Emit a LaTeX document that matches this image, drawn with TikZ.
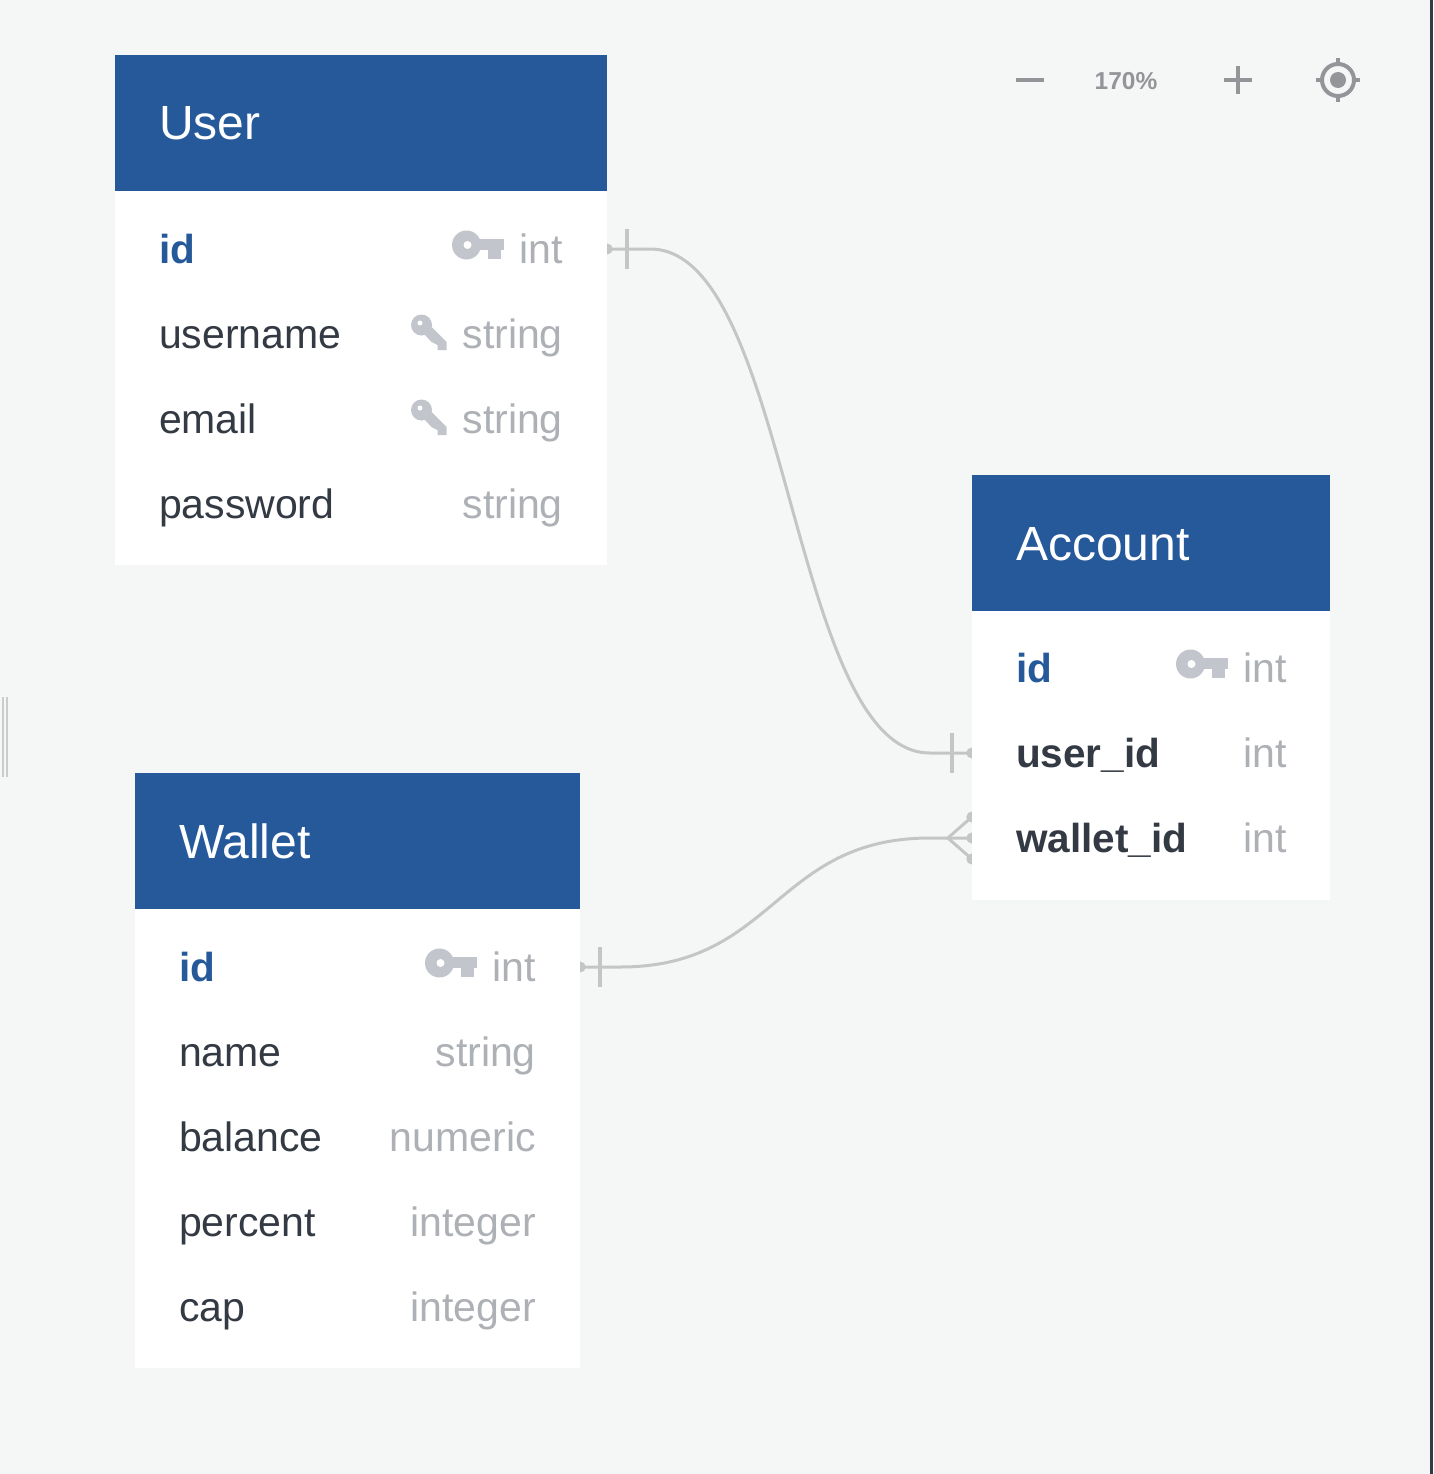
\documentclass[tikz,border=0pt]{standalone}
\usepackage{fontspec}
\setmainfont{Liberation Sans}
\usepackage{tikz}
\pgfdeclarelayer{tables}
\pgfsetlayers{main,tables}

\definecolor{pagebg}{HTML}{F5F7F7}
\definecolor{headblue}{HTML}{25599A}
\definecolor{namedark}{HTML}{343A43}
\definecolor{typegray}{HTML}{ADB0B5}
\definecolor{icongray}{HTML}{C2C5CC}
\definecolor{linkgray}{HTML}{C4C6C6}
\definecolor{toolgray}{HTML}{939598}

\tikzset{
	keyflat/.pic={
		\fill[icongray] (0,0) circle (14.5);
		\fill[icongray] (10,-6) rectangle (37,5);
		\fill[icongray] (21,5) rectangle (34,14);
		\fill[white] (1,0) circle (4);
	},
	keytilt/.pic={
		\fill[icongray] (0,0) circle (10.5);
		\fill[icongray] (10,2) -- (25,17) -- (25,25) -- (16,25) -- (16,20) -- (10,17) -- (3.5,10) -- cycle;
		\fill[white] (-1.5,-2) circle (2.5);
	}
}

\begin{document}
\begin{tikzpicture}
			[x=1pt,y=-1pt,line cap=butt,
			%Styles
			tablebody/.style={fill=white,inner sep=0pt},
			tablehead/.style={fill=headblue,text=white,inner sep=0pt,align=left,font=\fontsize{48}{56}\selectfont,text height=34,text depth=0},
			fieldrow/.style={inner xsep=44pt,inner ysep=0pt,minimum height=85pt,align=left,font=\fontsize{41}{48}\selectfont,text=namedark,text height=31,text depth=3},
			keyname/.style={fieldrow,font=\fontsize{40.5}{48}\selectfont\bfseries,text=headblue},
			boldname/.style={fieldrow,font=\fontsize{40.5}{48}\selectfont\bfseries},
			fieldtype/.style={anchor=base east,inner sep=0pt,font=\fontsize{41}{48}\selectfont,text=typegray},
			linkline/.style={draw=linkgray,line width=3pt},
			linktick/.style={draw=linkgray,line width=4pt},
			linkdot/.style={fill=linkgray},
			tool/.style={draw=toolgray,line width=4pt}
			]

			%The page
			\fill[pagebg] (0,0) rectangle (1433,1474);
			\fill[namedark] (1430,0) rectangle (1433,1474);
			\fill[black!20] (2,697) rectangle (4,777);
			\fill[black!20] (6,697) rectangle (8,777);

			%The tables
			\begin{pgfonlayer}{tables}
				\node[tablebody,minimum width=492pt,minimum height=510pt] (userbody) at (361,310) {};
				\node[tablehead,minimum width=492pt,minimum height=136pt,text width=404pt] (userhead) at (361,123) {User};
				\node[keyname,text width=404pt] (userid) at (361,249) {id};
				\node[fieldrow,text width=404pt] (username) at (361,334) {username};
				\node[fieldrow,text width=404pt] (useremail) at (361,419) {email};
				\node[fieldrow,text width=404pt] (userpass) at (361,504) {password};
				\node[fieldtype] (useridtype) at (563,263) {int};
				\node[fieldtype] (usernametype) at (563,348) {string};
				\node[fieldtype] (useremailtype) at (563,433) {string};
				\node[fieldtype] (userpasstype) at (563,518) {string};
				\pic at (466.5,245) {keyflat};
				\pic at (421.5,325) {keytilt};
				\pic at (421.5,410) {keytilt};

				\node[tablebody,minimum width=358pt,minimum height=425pt] (accountbody) at (1151,687.5) {};
				\node[tablehead,minimum width=358pt,minimum height=136pt,text width=270pt] (accounthead) at (1151,543) {Account};
				\node[keyname,text width=270pt] (accountid) at (1151,668) {id};
				\node[boldname,text width=270pt] (accountuser) at (1151,753) {user\_id};
				\node[boldname,text width=270pt] (accountwallet) at (1151,838) {wallet\_id};
				\node[fieldtype] (accountidtype) at (1287,682) {int};
				\node[fieldtype] (accountusertype) at (1287,767) {int};
				\node[fieldtype] (accountwallettype) at (1287,852) {int};
				\pic at (1190.5,664) {keyflat};

				\node[tablebody,minimum width=445pt,minimum height=595pt] (walletbody) at (357.5,1070.5) {};
				\node[tablehead,minimum width=445pt,minimum height=136pt,text width=357pt] (wallethead) at (357.5,841) {Wallet};
				\node[keyname,text width=357pt] (walletid) at (357.5,967) {id};
				\node[fieldrow,text width=357pt] (walletname) at (357.5,1052) {name};
				\node[fieldrow,text width=357pt] (walletbalance) at (357.5,1137) {balance};
				\node[fieldrow,text width=357pt] (walletpercent) at (357.5,1222) {percent};
				\node[fieldrow,text width=357pt] (walletcap) at (357.5,1307) {cap};
				\node[fieldtype] (walletidtype) at (536,981) {int};
				\node[fieldtype] (walletnametype) at (536,1066) {string};
				\node[fieldtype] (walletbalancetype) at (536,1151) {numeric};
				\node[fieldtype] (walletpercenttype) at (536,1236) {integer};
				\node[fieldtype] (walletcaptype) at (536,1321) {integer};
				\pic at (439.5,963) {keyflat};
			\end{pgfonlayer}

			%The connectors
			\draw[linkline] (userid.east) -- ++(43,0) .. controls (790,249) and (790,753) .. (930,753) -- (accountuser.west);
			\draw[linkline] (walletid.east) -- ++(40,0) .. controls (775,967) and (775,838) .. (930,838) -- (accountwallet.west);

			\fill[linkdot] (userid.east) circle (5.5);
			\fill[linkdot] (walletid.east) circle (5.5);
			\fill[linkdot] (accountuser.west) circle (5.5);
			\fill[linkdot] (accountwallet.west) circle (5.5);
			\fill[linkdot] (accountwallet.west) +(0,-21) circle (5.5);
			\fill[linkdot] (accountwallet.west) +(0,21) circle (5.5);

			\draw[linktick] (userid.east) +(20,-20) -- +(20,20);
			\draw[linktick] (walletid.east) +(20,-20) -- +(20,20);
			\draw[linktick] (accountuser.west) +(-20,-20) -- +(-20,20);
			\draw[linkline] (accountwallet.west) +(0,-21) -- +(-24,0) -- +(0,21);

			%The zoom buttons
			\node[inner sep=0pt,text=toolgray,font=\fontsize{24.5}{28}\selectfont\bfseries] (zoomlevel) at (1126,81) {170\%};
			\draw[tool] (1016,80) -- (1044,80);
			\draw[tool] (1224,80) -- (1252,80);
			\draw[tool] (1238,66) -- (1238,94);
			\draw[tool] (1338,80) circle (16);
			\fill[toolgray] (1338,80) circle (8);
			\draw[tool] (1316,80) -- (1322,80);
			\draw[tool] (1354,80) -- (1360,80);
			\draw[tool] (1338,58) -- (1338,64);
			\draw[tool] (1338,96) -- (1338,102);

			\useasboundingbox (0,0) rectangle (1433,1474);
		\end{tikzpicture}
\end{document}
